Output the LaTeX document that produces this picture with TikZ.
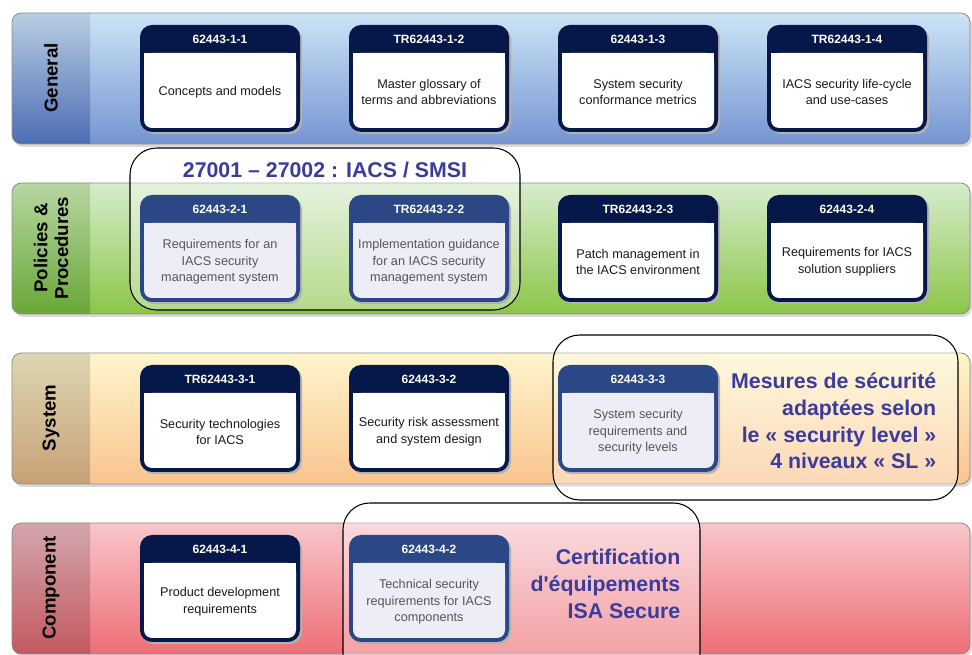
\documentclass[tikz,border=0pt]{standalone}
\usepackage{fontspec}
\setmainfont{Liberation Sans}
\usetikzlibrary{positioning}

\definecolor{topgen}{HTML}{CDE4F6}\definecolor{botgen}{HTML}{7595D2}
\definecolor{ltopgen}{HTML}{B9CDE2}\definecolor{lbotgen}{HTML}{4C6DB4}
\definecolor{toppol}{HTML}{D7ECCD}\definecolor{botpol}{HTML}{8CC549}
\definecolor{ltoppol}{HTML}{B7D6A2}\definecolor{lbotpol}{HTML}{69A737}
\definecolor{topsys}{HTML}{FEF5CB}\definecolor{botsys}{HTML}{FAC48F}
\definecolor{ltopsys}{HTML}{DCD6B2}\definecolor{lbotsys}{HTML}{C8A176}
\definecolor{topcom}{HTML}{F8C6CB}\definecolor{botcom}{HTML}{EE6E76}
\definecolor{ltopcom}{HTML}{D2A6AC}\definecolor{lbotcom}{HTML}{C45860}
\definecolor{hdn}{HTML}{06184A}\definecolor{bdn}{HTML}{FFFFFF}\definecolor{txn}{HTML}{1A1A1A}
\definecolor{hdh}{HTML}{2B4785}\definecolor{bdh}{HTML}{EDEDF7}\definecolor{txh}{HTML}{555555}
\definecolor{bigblue}{HTML}{3B3C9C}

\begin{document}
\begin{tikzpicture}[x=0.75pt,y=-0.75pt,line join=round,line cap=round,
	hdr/.style={text=white,font=\bfseries\fontsize{9}{10}\selectfont},
	txt/.style={align=center,font=\fontsize{9.5}{12.5}\selectfont},
	lbl/.style={rotate=90,align=center,font=\bfseries\fontsize{14}{15.5}\selectfont},
	big/.style={text=bigblue,font=\bfseries\fontsize{16}{20}\selectfont},
	ring/.style={rounded corners=20pt}]
	\useasboundingbox (0,0) rectangle (972,655);
	\clip (0,0) rectangle (972,655);
	% bands
	\foreach \n/\y/\t in {gen/13/General,pol/183/{Policies \&\\Procedures},sys/353/System,com/523/Component}{
		\fill[black!15,rounded corners=7pt] (14,\y+3) rectangle (972,\y+134);
		\shade[top color=top\n,bottom color=bot\n,rounded corners=7pt] (12,\y) rectangle (970,\y+131);
		\begin{scope}
			\clip[rounded corners=7pt] (12,\y) rectangle (970,\y+131);
			\shade[top color=ltop\n,bottom color=lbot\n] (12,\y) rectangle (90,\y+131);
		\end{scope}
		\draw[black!45,line width=0.6pt,rounded corners=7pt] (12,\y) rectangle (970,\y+131);
		\node[lbl] (l\n) at (51,\y+65) {\t};}
	% groups (fill)
	\fill[white,opacity=.35,ring] (130,148) rectangle (520,310);
	\fill[white,opacity=.35,ring] (553,335) rectangle (958,500);
	\fill[white,opacity=.35,ring] (343,503) rectangle (700,680);
	% standards
	\foreach \id/\x/\y/\h/\t/\s in {
		b11/140/25/62443-1-1/Concepts and models/n,
		b12/349/25/TR62443-1-2/Master glossary of\\terms and abbreviations/n,
		b13/558/25/62443-1-3/System security\\conformance metrics/n,
		b14/767/25/TR62443-1-4/IACS security life-cycle\\and use-cases/n,
		b21/140/195/62443-2-1/Requirements for an\\IACS security\\management system/h,
		b22/349/195/TR62443-2-2/Implementation guidance\\for an IACS security\\management system/h,
		b23/558/195/TR62443-2-3/Patch management in\\the IACS environment/n,
		b24/767/195/62443-2-4/Requirements for IACS\\solution suppliers/n,
		b31/140/365/TR62443-3-1/Security technologies\\for IACS/n,
		b32/349/365/62443-3-2/Security risk assessment\\and system design/n,
		b33/558/365/62443-3-3/System security\\requirements and\\security levels/h,
		b41/140/535/62443-4-1/Product development\\requirements/n,
		b42/349/535/62443-4-2/Technical security\\requirements for IACS\\components/h}{
		\fill[black!30,rounded corners=9pt] (\x+2,\y+2) rectangle ++(160,107);
		\fill[hd\s,rounded corners=9pt] (\x,\y) rectangle ++(160,107);
		\fill[bd\s,rounded corners=6pt] (\x+4,\y+28) rectangle (\x+156,\y+103);
		\fill[bd\s] (\x+4,\y+28) rectangle (\x+156,\y+45);
		\node[hdr] (\id-h) at (\x+80,\y+14) {\h};
		\node[txt,text=tx\s] (\id) at (\x+80,\y+67) {\t};}
	% groups (outline)
	\draw[line width=0.8pt,ring] (130,148) rectangle (520,310);
	\draw[line width=0.8pt,ring] (553,335) rectangle (958,500);
	\draw[line width=0.8pt,ring] (343,503) rectangle (700,680);
	\node[big] (smsi) at (325,170) {27001 – 27002 : IACS / SMSI};
	\node[big,align=right,anchor=east] (sl) at (941,421) {Mesures de sécurité\\adaptées selon\\le « security level »\\4 niveaux « SL »};
	\node[big,align=right,anchor=east] (isa) at (685,584) {Certification\\d\textquotesingle équipements\\ISA Secure};
\end{tikzpicture}
\end{document}
